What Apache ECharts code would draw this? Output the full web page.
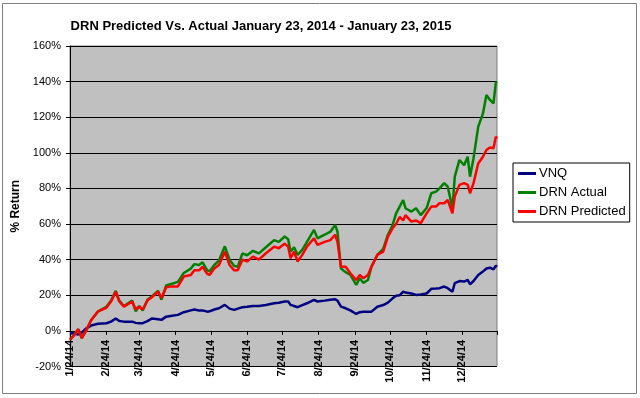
<!DOCTYPE html>
<html>
<head>
<meta charset="utf-8">
<script src="https://cdn.jsdelivr.net/npm/echarts@6/dist/echarts.min.js"></script>
<style>
html,body{margin:0;padding:0;background:#fff;}
#chart{width:640px;height:398px;}
</style>
</head>
<body>
<div id="chart"></div>
<script>
// Day offsets from 1/24/14
var days = [0,4,7,10,14,18,24,31,35,39,42,46,53,56,59,62,66,70,75,78,82,87,92,97,103,106,110,113,117,119,123,127,132,136,140,143,147,151,156,161,167,174,178,183,186,188,191,194,198,202,208,211,217,222,226,228,231,235,239,244,247,250,254,257,262,267,271,275,278,281,284,286,291,295,299,304,308,312,315,319,322,326,328,332,336,339,341,344,348,352,355,358,361,363,364];
var vnq = [-1.3,-1.5,-2,-1,1.5,3,4,4.3,5.2,7,5.5,5.2,5.2,4.5,4.3,4.3,5.5,7,6.5,6.2,8,8.5,9,10.5,11.5,12,11.5,11.5,10.8,11,12,12.7,14.6,12.5,11.8,12.5,13.3,13.5,14,14,14.5,15.5,15.8,16.5,16.5,14.6,14,13.3,14.5,15.5,17.4,16.5,17,17.5,17.8,17,13.6,12.7,11.5,9.5,10.5,10.8,10.8,10.8,13.6,14.5,15.9,18.3,19.8,20,22,21.5,21,20.2,20.5,21,23.6,23.8,24,24.9,24,22,26.8,28,27.7,28.6,26.2,28,31.4,33.3,35,35.5,34.5,36.6,36];
var drnActual = [-5,-2,1,-4,0.5,6,11,13.5,17,22.5,17,14,17,11,14,11.5,17.5,19.5,22.5,17.5,25.5,26.5,27.5,32.5,35,37.5,37,38.5,34,33.5,37,39.5,47.5,40,36.5,36,43.5,42.5,45,43.5,47,51,50,53,51.5,44.5,47,42.7,45.5,50,56.7,52,54,55.7,59.5,55.7,35,33,31.4,25.8,29.6,27,28.6,36,42.7,46,54,59.5,66,69.8,73.5,68.9,67,68.9,65,69,77.3,78.2,80,83,81,69,86.6,96,93,97.8,86.6,97,114.7,122,132.5,129.7,127.8,139.4,140];
var drnPredicted = [-5,-2,1,-4,0.5,6,11,13,16.5,22,16.5,13.6,16.5,12,13.6,12,17,19,22,18.5,24.5,25,25,30.5,31.4,34,34,36,32,31.4,35,37,44.5,37,34,34,40,39,41.7,40,43.6,47.3,46.4,49,47.3,40.8,44.5,39,42.7,47.3,52,48.3,50,51,54,50,36,36,32.4,28.6,31.4,29.6,31.4,36,42.7,44.5,53,57.6,60,64,62,65,61.4,62,60.5,66,69.8,69.8,71.7,71.7,73.5,66,75.4,82,83,82,77.3,83,94,97.8,101.6,103,102.6,109,108];
var tickLabels = ['1/24/14','2/24/14','3/24/14','4/24/14','5/24/14','6/24/14','7/24/14','8/24/14','9/24/14','10/24/14','11/24/14','12/24/14'];
var endLabel = '1/23/15';
var seriesNames = ['VNQ','DRN Actual','DRN Predicted'];
var yMin = -20, yMax = 160, yStep = 20;

function dayOf(s){
  var p = s.split('/');
  var t = Date.UTC(2000 + (+p[2]), (+p[0]) - 1, +p[1]);
  return Math.round((t - Date.UTC(2014,0,24)) / 86400000);
}
var tickDays = tickLabels.map(dayOf);
var endDay = dayOf(endLabel);
var labelByDay = {};
tickLabels.forEach(function(l){ labelByDay[dayOf(l)] = l; });

function zip(a){ return days.map(function(d,i){ return [d, a[i]]; }); }

var W = 640, H = 398;
var gridTop = 46, gridBottom = 31.5;
var gridH = H - gridTop - gridBottom;
// move x axis up to the 0% line
var zeroOffset = -gridH * (0 - yMin) / (yMax - yMin);

var FONT = '"Liberation Sans", Arial, sans-serif';
var chart = echarts.init(document.getElementById('chart'), null, {renderer:'canvas'});
chart.setOption({
  animation: false,
  backgroundColor: '#fff',
  title: {
    text: 'DRN Predicted Vs. Actual January 23, 2014 - January 23, 2015',
    left: 261, top: 20, textAlign: 'center', padding: 0,
    textStyle: {fontFamily: FONT, fontSize: 13, fontWeight: 'bold', color: '#000'}
  },
  graphic: [{
    type: 'rect', shape: {x: 2.5, y: 3.5, width: 634, height: 390},
    style: {fill: null, stroke: '#7f7f7f', lineWidth: 1}, silent: true, z: -10
  }],
  legend: {
    orient: 'vertical', left: 513, top: 163,
    data: seriesNames,
    icon: 'rect', itemWidth: 18, itemHeight: 3, itemGap: 0,
    padding: [1, 4, 1, 5],
    backgroundColor: '#fff', borderColor: '#000', borderWidth: 1, borderRadius: 0,
    textStyle: {fontFamily: FONT, fontSize: 13, color: '#000', lineHeight: 19, padding: [0,0,0,-2]}
  },
  grid: {
    left: 70, right: 143, top: gridTop, bottom: gridBottom,
    outerBoundsMode: 'none', containLabel: false,
    show: true, backgroundColor: '#c0c0c0', borderColor: '#808080', borderWidth: 1
  },
  xAxis: {
    type: 'value', min: 0, max: endDay, position: 'bottom', offset: zeroOffset,
    axisLine: {show: true, onZero: false, lineStyle: {color: '#000', width: 1}},
    axisTick: {show: true, length: 4, inside: false, customValues: tickDays.concat([endDay]), lineStyle: {color: '#000'}},
    axisLabel: {
      show: true, customValues: tickDays, rotate: 90, margin: 9,
      fontFamily: FONT, fontSize: 11, fontWeight: 'bold', color: '#000', hideOverlap: false,
      formatter: function(v){ return labelByDay[Math.round(v)] || ''; }
    },
    splitLine: {show: false}
  },
  yAxis: {
    type: 'value', min: yMin, max: yMax, interval: yStep,
    name: '% Return', nameLocation: 'middle', nameGap: 47,
    nameTextStyle: {fontFamily: FONT, fontSize: 12, fontWeight: 'bold', color: '#000'},
    axisLine: {show: true, lineStyle: {color: '#000'}},
    axisTick: {show: true, length: 4, lineStyle: {color: '#000'}},
    axisLabel: {margin: 9, fontFamily: FONT, fontSize: 11, color: '#000', formatter: '{value}%'},
    splitLine: {show: true, lineStyle: {color: '#000', width: 1}}
  },
  series: [
    {name: seriesNames[0], type: 'line', data: zip(vnq), symbol: 'none', lineStyle: {color: '#000080', width: 2.5}, itemStyle: {color: '#000080'}, z: 2},
    {name: seriesNames[1], type: 'line', data: zip(drnActual), symbol: 'none', lineStyle: {color: '#008000', width: 2.5}, itemStyle: {color: '#008000'}, z: 3},
    {name: seriesNames[2], type: 'line', data: zip(drnPredicted), symbol: 'none', lineStyle: {color: '#ff0000', width: 2.5}, itemStyle: {color: '#ff0000'}, z: 4}
  ]
});
</script>
</body>
</html>
